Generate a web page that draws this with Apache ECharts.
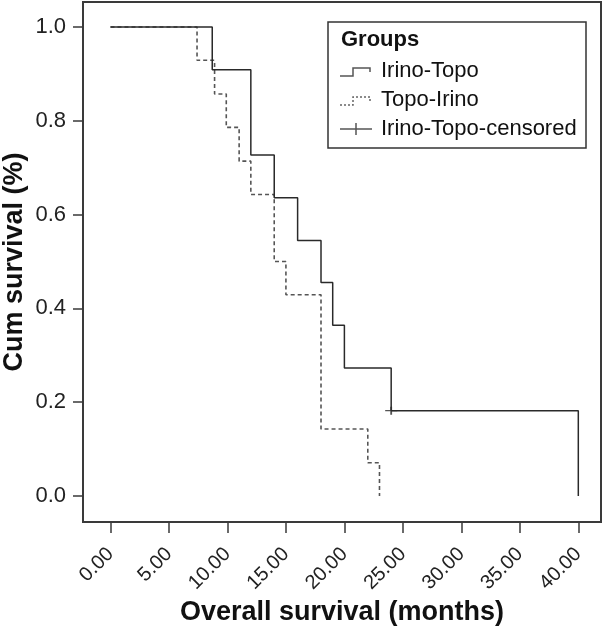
<!DOCTYPE html>
<html>
<head>
<meta charset="utf-8">
<script src="https://cdn.jsdelivr.net/npm/echarts@6/dist/echarts.min.js"></script>
<style>
html,body{margin:0;padding:0;background:#fff;}
#chart{width:606px;height:629px;}
</style>
</head>
<body>
<div id="chart"></div>
<script>
// Kaplan-Meier step data (time in months, cumulative survival)
var irinoTopoTimes = [0, 8.7, 12, 14, 16, 18, 19, 20, 24, 40];
var irinoTopoSurv  = [1.0, 0.909, 0.727, 0.636, 0.545, 0.455, 0.364, 0.273, 0.182, 0.0];
var topoIrinoTimes = [0, 7.4, 8.9, 9.9, 11, 12, 14, 15, 18, 22, 23];
var topoIrinoSurv  = [1.0, 0.929, 0.857, 0.786, 0.714, 0.643, 0.5, 0.429, 0.143, 0.071, 0.0];
var censoredTimes = [24];
var censoredSurv  = [0.182];
var xTicks = [0, 5, 10, 15, 20, 25, 30, 35, 40];
var yTicks = [0, 0.2, 0.4, 0.6, 0.8, 1.0];
var legendTitle = 'Groups';
var seriesNames = ['Irino-Topo', 'Topo-Irino', 'Irino-Topo-censored'];

function pairs(xs, ys){ return xs.map(function(x,i){ return [x, ys[i]]; }); }

var FONT = '"Liberation Sans", Arial, Helvetica, sans-serif';
var chart = echarts.init(document.getElementById('chart'), null, {renderer:'canvas'});

var lx = 328, ly = 22;
var option = {
  animation: false,
  backgroundColor: '#fff',
  grid: {left: 83, right: 5, top: 2, bottom: 107, containLabel: false, outerBoundsMode: 'none',
    show: true, borderColor: '#3a3a3a', borderWidth: 2, backgroundColor: '#fff'},
  xAxis: {
    type: 'value', min: -2.35, max: 41.94,
    name: 'Overall survival (months)', nameLocation: 'middle', nameGap: 77, nameMoveOverlap: false,
    nameTextStyle: {fontFamily: FONT, fontSize: 27, fontWeight: 'bold', color: '#111'},
    axisLine: {show: false, onZero: false},
    splitLine: {show: false},
    axisTick: {show: true, inside: false, customValues: xTicks, length: 11, lineStyle: {color: '#3a3a3a', width: 1.5}},
    axisLabel: {customValues: xTicks, rotate: 45, margin: 29, fontFamily: FONT, fontSize: 20, color: '#222',
      formatter: function(v){ return v.toFixed(2); }}
  },
  yAxis: {
    type: 'value', min: -0.0554, max: 1.0533,
    name: 'Cum survival (%)', nameLocation: 'middle', nameGap: 55, nameMoveOverlap: false,
    nameTextStyle: {fontFamily: FONT, fontSize: 27, fontWeight: 'bold', color: '#111'},
    axisLine: {show: false, onZero: false},
    splitLine: {show: false},
    axisTick: {show: true, inside: false, customValues: yTicks, length: 10, lineStyle: {color: '#3a3a3a', width: 1.5}},
    axisLabel: {customValues: yTicks, margin: 17, fontFamily: FONT, fontSize: 22, color: '#222',
      formatter: function(v){ return v.toFixed(1); }}
  },
  series: [
    {name: seriesNames[1], type: 'line', step: 'end', data: pairs(topoIrinoTimes, topoIrinoSurv), showSymbol: false, symbol: 'none',
      lineStyle: {color: '#555', width: 1.6, type: [4, 3]}, z: 2},
    {name: seriesNames[0], type: 'line', step: 'end', data: pairs(irinoTopoTimes, irinoTopoSurv), showSymbol: false, symbol: 'none',
      lineStyle: {color: '#2a2a2a', width: 1.5}, z: 3},
    {name: seriesNames[2], type: 'scatter', data: pairs(censoredTimes, censoredSurv),
      symbol: 'path://M6,0L6,8M0,4L12,4', symbolSize: [12, 8],
      itemStyle: {color: 'rgba(0,0,0,0)', borderColor: '#2a2a2a', borderWidth: 1.5}, z: 4}
  ],
  graphic: [
    {type: 'rect', shape: {x: lx, y: ly, width: 258, height: 126}, style: {fill: '#fff', stroke: '#333', lineWidth: 1.5}, z: 10},
    {type: 'text', x: 341, y: 40, style: {text: legendTitle, font: 'bold 22px ' + FONT, fill: '#111', textVerticalAlign: 'middle'}, z: 11},
    {type: 'polyline', shape: {points: [[340,76],[353,76],[353,68],[370,68],[370,72]]}, style: {stroke: '#555', lineWidth: 1.5, fill: null}, z: 11},
    {type: 'text', x: 381, y: 71, style: {text: seriesNames[0], font: '22px ' + FONT, fill: '#111', textVerticalAlign: 'middle'}, z: 11},
    {type: 'polyline', shape: {points: [[340,105],[353,105],[353,97],[370,97],[370,101]]}, style: {stroke: '#666', lineWidth: 1.5, fill: null, lineDash: [2, 2]}, z: 11},
    {type: 'text', x: 381, y: 100, style: {text: seriesNames[1], font: '22px ' + FONT, fill: '#111', textVerticalAlign: 'middle'}, z: 11},
    {type: 'line', shape: {x1: 340, y1: 129, x2: 372, y2: 129}, style: {stroke: '#555', lineWidth: 1.5}, z: 11},
    {type: 'line', shape: {x1: 356, y1: 123, x2: 356, y2: 135}, style: {stroke: '#555', lineWidth: 1.5}, z: 11},
    {type: 'text', x: 381, y: 129, style: {text: seriesNames[2], font: '22px ' + FONT, fill: '#111', textVerticalAlign: 'middle'}, z: 11}
  ]
};
chart.setOption(option);
</script>
</body>
</html>
